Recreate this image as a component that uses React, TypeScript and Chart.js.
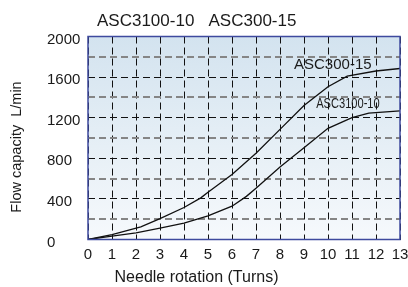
import { useEffect, useRef } from 'react';
import { Chart, registerables } from 'chart.js';

Chart.register(...registerables);

const chartTitle = 'ASC3100-10   ASC300-15';
const xAxisTitle = 'Needle rotation (Turns)';
const yAxisTitle = 'Flow capacity  L/min';

const upperName = 'ASC300-15';
const upperTurns = [0, 1, 2.2, 3, 4, 4.7, 5, 6, 7, 8, 9, 10, 10.8, 12, 13];
const upperFlow = [0, 48, 125, 205, 315, 410, 465, 640, 850, 1085, 1320, 1505, 1610, 1660, 1685];

const lowerName = 'ASC3100-10';
const lowerTurns = [0, 1, 2, 3, 4, 5, 6, 6.6, 7, 8, 9, 10, 11, 11.7, 13];
const lowerFlow = [0, 33, 66, 112, 162, 232, 328, 425, 505, 715, 905, 1095, 1200, 1245, 1268];

const xMin = 0;
const xMax = 13;
const yMin = 0;
const yMax = 2000;
const yGridStep = 200;
const yLabelStep = 400;

// label anchor points in data units
const upperLabelAt = [10.2, 1725];
const lowerLabelAt = [10.83, 1335];

const FONT = '"Liberation Sans", Arial, sans-serif';

const decorPlugin = {
  id: 'decor',
  beforeDraw(chart: any) {
    const { ctx, chartArea: a, scales } = chart;
    ctx.save();
    const g = ctx.createLinearGradient(0, a.top, 0, a.bottom);
    g.addColorStop(0, '#d3e3ef');
    g.addColorStop(1, '#f6f9fc');
    ctx.fillStyle = g;
    ctx.fillRect(a.left, a.top, a.right - a.left, a.bottom - a.top);

    ctx.fillStyle = '#1a1a1a';
    ctx.textBaseline = 'middle';
    ctx.textAlign = 'left';
    ctx.font = `17px ${FONT}`;
    ctx.fillText(chartTitle, 97, 21);

    ctx.textAlign = 'center';
    ctx.font = `16px ${FONT}`;
    ctx.fillText(xAxisTitle, 196.5, 278);

    ctx.save();
    ctx.translate(17, 147);
    ctx.rotate(-Math.PI / 2);
    ctx.font = `14.5px ${FONT}`;
    ctx.fillText(yAxisTitle, 0, 0);
    ctx.restore();

    const x = scales.x;
    const y = scales.y;
    ctx.font = `15px ${FONT}`;
    ctx.fillText(upperName, x.getPixelForValue(upperLabelAt[0]), y.getPixelForValue(upperLabelAt[1]));

    ctx.save();
    ctx.translate(x.getPixelForValue(lowerLabelAt[0]), y.getPixelForValue(lowerLabelAt[1]));
    ctx.scale(0.74, 1);
    ctx.font = `15px ${FONT}`;
    ctx.fillText(lowerName, 0, 0);
    ctx.restore();
    ctx.restore();
  },
  afterDraw(chart: any) {
    const { ctx, chartArea: a } = chart;
    ctx.save();
    ctx.strokeStyle = '#3e4a9e';
    ctx.lineWidth = 1.5;
    ctx.strokeRect(a.left, a.top, a.right - a.left, a.bottom - a.top);
    ctx.restore();
  },
};

export default function App() {
  const ref = useRef<HTMLCanvasElement | null>(null);

  useEffect(() => {
    document.body.style.margin = '0';
    const canvas = ref.current!;
    const chart = new Chart(canvas, {
      type: 'line',
      data: {
        datasets: [
          {
            label: upperName,
            data: upperTurns.map((t, i) => ({ x: t, y: upperFlow[i] })),
            borderColor: '#111',
            borderWidth: 1.3,
            pointRadius: 0,
            tension: 0,
          },
          {
            label: lowerName,
            data: lowerTurns.map((t, i) => ({ x: t, y: lowerFlow[i] })),
            borderColor: '#111',
            borderWidth: 1.3,
            pointRadius: 0,
            tension: 0,
          },
        ],
      },
      options: {
        responsive: false,
        animation: false,
        devicePixelRatio: 1,
        layout: { padding: { left: 47, top: 36.5, right: 8, bottom: 0 } },
        plugins: { legend: { display: false }, tooltip: { enabled: false }, title: { display: false } },
        scales: {
          x: {
            type: 'linear',
            min: xMin,
            max: xMax,
            afterFit: (s: any) => {
              s.height = 47.5;
              s.paddingLeft = 0;
              s.paddingRight = 0;
            },
            ticks: {
              stepSize: 1,
              color: '#1a1a1a',
              font: { family: FONT, size: 15 },
              padding: 6,
              maxRotation: 0,
              autoSkip: false,
            },
            grid: { color: '#111', lineWidth: 1, drawTicks: false },
            border: { display: false, dash: [7, 4] },
          },
          y: {
            type: 'linear',
            min: yMin,
            max: yMax,
            afterFit: (s: any) => {
              s.width = 41;
              s.paddingTop = 0;
              s.paddingBottom = 0;
            },
            ticks: {
              stepSize: yGridStep,
              color: '#1a1a1a',
              font: { family: FONT, size: 15 },
              crossAlign: 'far',
              labelOffset: 3,
              autoSkip: false,
              callback: (v: any) => (Number(v) % yLabelStep === 0 ? String(v) : ''),
            },
            grid: {
              drawTicks: false,
              color: (c: any) => (c.tick && c.tick.value % yLabelStep === 0 ? '#111' : '#858585'),
              lineWidth: (c: any) => (c.tick && c.tick.value % yLabelStep === 0 ? 1 : 2),
            },
            border: { display: false, dash: [7, 4] },
          },
        },
      },
      plugins: [decorPlugin],
    } as any);
    return () => chart.destroy();
  }, []);

  return <canvas ref={ref} width={408} height={287} style={{ display: 'block' }} />;
}
